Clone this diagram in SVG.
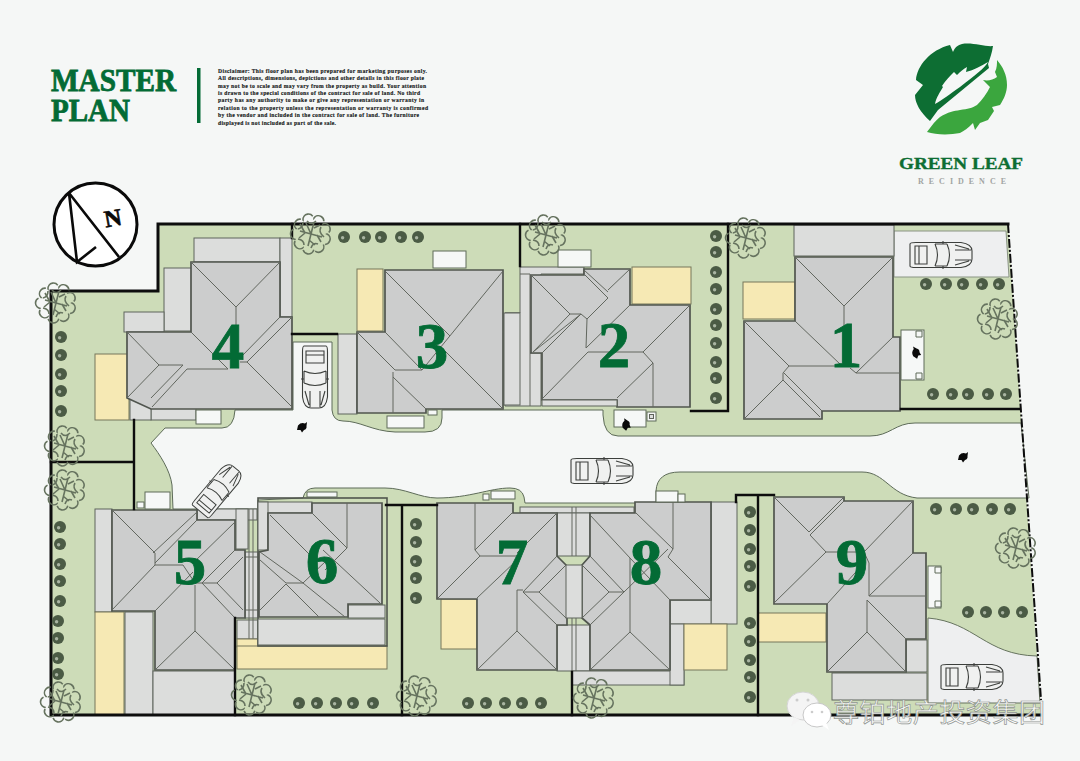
<svg xmlns="http://www.w3.org/2000/svg" width="1080" height="761" viewBox="0 0 1080 761">
<style>
.roof{fill:#cccdcd;stroke:#50554e;stroke-width:1.7;stroke-linejoin:miter}
.ridge{fill:none;stroke:#62675f;stroke-width:1}
.pave{fill:#dcdddc;stroke:#5f645c;stroke-width:1}
.yel{fill:#f6e9b4;stroke:#77775a;stroke-width:1}
.ent{fill:#f6f8f7;stroke:#5f6b58;stroke-width:1}
.wall{fill:none;stroke:#0d0d0d;stroke-width:2.4;stroke-linecap:square}
.num{font-family:"Liberation Serif",serif;font-weight:700;font-size:65px;fill:#036b35;stroke:#036b35;stroke-width:.8;text-anchor:middle}
.title{font-family:"Liberation Serif",serif;font-weight:700;font-size:31px;fill:#036b35;stroke:#036b35;stroke-width:.8}
.disc{font-family:"Liberation Serif",serif;font-weight:700;font-size:5.6px;fill:#17201a;stroke:#17201a;stroke-width:.15}
</style>
<defs>
<g id="tree" fill="none" stroke="#66735f" stroke-width="1.6">
<path d="M16,0A5.5,5.5 0 0 1 12.3,10.3A5.5,5.5 0 0 1 2.8,15.8A5.5,5.5 0 0 1 -8,13.9A5.5,5.5 0 0 1 -15,5.5A5.5,5.5 0 0 1 -15,-5.5A5.5,5.5 0 0 1 -8,-13.9A5.5,5.5 0 0 1 2.8,-15.8A5.5,5.5 0 0 1 12.3,-10.3A5.5,5.5 0 0 1 16,0Z" stroke-dasharray="14 2"/>
<path d="M0,0L3,-12M3,-6L9,-9M0,0L11,3M6,1L10,8M0,0L-3,12M-2,6L4,11M0,0L-11,-3M-6,-1L-11,-10M-6,-1L-12,4M0,0L-5,-11"/>
<path d="M-4,-13Q0,-8 5,-13M10,-7Q7,-2 13,3M7,10Q2,8 0,14M-7,11Q-7,6 -13,5M-13,-5Q-8,-6 -8,-12"/>
</g>
<g id="bush"><circle r="6" fill="#4b5b45"/><circle cx="-1.400" cy=".8" r="1.700" fill="#a9b4a2"/></g>
<g id="car" fill="none" stroke="#3c3f3c" stroke-width="1.1">
<path d="M-31,-11Q-31,-12.500 -25,-12.500L20,-12.500Q31,-11 31,-4L31,4Q31,11 20,12.500L-25,12.500Q-31,12.500 -31,11Z" fill="#f0f1f0"/>
<path d="M-26,-9L-14,-9L-14,9L-26,9ZM-22,-9V9"/>
<path d="M-6,-11Q-1,0 -6,11M6,-11Q11,0 6,11M-6,-11H6M-6,11H6"/>
<path d="M14,-10L28,-6M14,10L28,6M14,-5H30M14,5H30M2,-14V-11M2,14V11"/>
</g>
<path id="person" d="M-4,-1.500Q-1,-5 3,-3.500L5,-5L4.500,-1Q5,2 2,3L0,5.500L-1.500,3L-5,3Z" fill="#0a0a0a"/>
</defs>
<rect width="1080" height="761" fill="#f5f7f6"/>
<g id="site">
<path d="M51,291H158V224H1008L1041,715H51Z" fill="#cddcb8"/>
<path id="road" d="M151,443L165,428H222Q234,428 235,410H293V342H332V410Q333,421 343,421C360,421 372,431 395,432H425Q442,432 442,418V410H603V415Q604,436 618,436H870C890,436 895,423 915,423H1021L1029,498H917C890,495 885,472 862,472H680Q657,472 656,491V503H525L524,497Q522,488 510,488C490,488 470,498 437,498C420,498 405,488 385,488H315Q305,488 303,498L258,500V509H173L172,485C170,470 160,455 151,443Z" fill="#f5f7f6" stroke="#5d6b58" stroke-width="1"/>
<path d="M894,231H1006L1009,277H894Z" fill="#eeeff0" stroke="#8a9484" stroke-width="1"/>
<path d="M928,618C975,622 985,655 1037,656L1040,703H928Z" fill="#eeeff0" stroke="#66735f" stroke-width="1"/>
</g>
<g id="house-1">
<rect class="pave" x="794" y="225" width="100" height="31"/>
<rect class="yel" x="743" y="282" width="52" height="37"/>
<path class="roof" d="M795,257H893V337H900V411H822V419H744V321H795Z"/>
<path class="ridge" d="M795,257L844,306L893,257M844,306V350M893,337L856,373H900M795,321L841,365M744,321L789,366H844M789,366L783,373V380M784,373L822,411M783,380L744,419M783,380L820,417M856,373L850,368"/>
<rect class="ent" x="901" y="330" width="23" height="50"/>
<path class="ent" d="M916,331h6v6h-6zM916,373h6v6h-6z"/>
<use href="#person" x="916" y="353" transform="rotate(-70 916 353)"/>
<text class="num" x="846" y="367">1</text>
</g>
<g id="house-2">
<path class="pave" d="M520,267H584V274H541V406H505V313H520Z"/>
<path class="ridge" d="M520,274H530V406M530,353H541M505,313H520"/>
<rect class="yel" x="632" y="267" width="59" height="37"/>
<path class="roof" d="M584,269H630V305H690V407H617V400H542V353H531V275H584Z"/>
<path class="ridge" d="M531,275L570,314H581L533,352M570,314L533,352M581,314L542,353M581,314L587,319L608,298M584,270L608,292M585,275L608,298M630,269L608,290M587,319L586,348L630,305M588,352H643L690,305M643,352L653,363V407M653,363L617,398M588,352L543,398"/>
<rect class="pave" x="542" y="400" width="75" height="6"/>
<rect class="ent" x="558" y="250" width="33" height="17"/>
<rect class="ent" x="614" y="410" width="32" height="17"/>
<rect class="ent" x="647" y="412" width="9" height="9"/>
<rect class="pave" x="649.500" y="414.500" width="4" height="4"/>
<use href="#person" x="626" y="425" transform="rotate(-60 626 425)"/>
<text class="num" x="614" y="367">2</text>
</g>
<g id="house-3">
<rect class="pave" x="338" y="334" width="19" height="80"/>
<rect class="pave" x="504" y="313" width="16" height="92"/>
<rect class="yel" x="357" y="269" width="26" height="62"/>
<path class="roof" d="M385,270H503V409H426V413H357V332H385Z"/>
<path class="ridge" d="M385,271L450,336M503,271L422,370M503,409L440,346M357,332L395,370L422,370L385,332M393,372V413M393,377L426,409"/>
<rect class="ent" x="433" y="251" width="33" height="17"/>
<rect class="ent" x="387" y="416" width="37" height="12"/>
<rect class="ent" x="428" y="410" width="9" height="5"/>
<text class="num" x="432" y="368">3</text>
</g>
<g id="house-4">
<rect class="pave" x="194" y="238" width="86" height="24"/>
<rect class="pave" x="280" y="238" width="12" height="79"/>
<rect class="pave" x="164" y="268" width="28" height="63"/>
<rect class="pave" x="124" y="312" width="40" height="20"/>
<rect class="yel" x="95" y="354" width="34" height="66"/>
<rect class="pave" x="151" y="408" width="45" height="12"/>
<rect class="pave" x="130" y="398" width="21" height="22"/>
<path class="roof" d="M191,262H280V317H292V409H151L127,398V332H191Z"/>
<path class="ridge" d="M191,262L236,307L280,262M236,307V352M191,332L228,369H187M127,332L159,365H183M159,365L127,398M183,365L151,398M187,369L152,407M280,317L242,356M292,317L247,362L292,407M240,362H247"/>
<rect class="ent" x="196" y="410" width="25" height="14"/>
<text class="num" x="228" y="368">4</text>
</g>
<g id="house-5">
<rect class="pave" x="95" y="509" width="17" height="103"/>
<rect class="yel" x="95" y="612" width="29" height="103"/>
<rect class="pave" x="125" y="612" width="28" height="103"/>
<rect class="pave" x="153" y="671" width="82" height="44"/>
<rect class="pave" x="197" y="509" width="60" height="11"/>
<rect class="pave" x="236" y="509" width="12" height="40"/>
<rect class="pave" x="245" y="552" width="13" height="66"/>
<rect class="pave" x="237" y="620" width="21" height="19"/>
<path class="ridge" d="M249,509V640M253,509V640M245,557H258M245,610H258"/>
<path class="roof" d="M112,510H197V520H235V550H245V618H235V670H155V611H112Z"/>
<path class="ridge" d="M112,510L155,553V565H183L195,583M155,565L112,610M197,512L153,553M197,520L155,563M235,522L193,563M155,611L193,572M195,585V631L155,670M195,631L235,670M202,583L235,550M202,583H217L243,557M217,583L243,610M202,583L235,618M195,583H202"/>
<rect class="ent" x="145" y="492" width="25" height="17"/>
<rect class="ent" x="137" y="502" width="7" height="6"/>
<text class="num" x="190" y="584">5</text>
</g>
<g id="house-6">
<rect class="yel" x="237" y="639" width="21" height="8"/>
<rect class="yel" x="237" y="646" width="150" height="23"/>
<rect x="258" y="498" width="129" height="148" fill="none" stroke="#50554e" stroke-width="1.600"/>
<rect class="pave" x="258" y="502" width="54" height="11"/>
<rect class="pave" x="258" y="502" width="10" height="48"/>
<rect class="pave" x="258" y="619" width="127" height="26"/>
<rect class="pave" x="348" y="605" width="37" height="13"/>
<path class="roof" d="M312,503H382V604H348V617H259V552L268,550V513H312Z"/>
<path class="ridge" d="M312,513L347,548M347,503V548L325,570M323,550L380,603M270,515L315,560M260,552L303,583H286L260,560M286,584L260,610M303,583L327,560M286,584L319,617M303,583L345,617"/>
<rect class="ent" x="307" y="492" width="30" height="5"/>
<text class="num" x="322" y="583">6</text>
</g>
<g id="house-7">
<rect class="pave" x="520" y="507" width="114" height="6"/>
<rect class="pave" x="557" y="513" width="33" height="43"/>
<rect class="pave" x="557" y="625" width="33" height="46"/>
<rect class="pave" x="572" y="671" width="112" height="14"/>
<rect class="yel" x="441" y="599" width="36" height="50"/>
<path class="roof" d="M437,503H513V513H557V556L567,566V625H557V670H477V599H437Z"/>
<path class="ridge" d="M475,503V550L480,556L438,598M513,512L475,550M480,556H520M477,598L517,560M517,590V631L477,670M517,631L557,670M557,513L517,553M523,592H539M523,592L557,556M539,592L566,565M523,592L557,625M539,592L566,618M517,590H523"/>
<rect class="ent" x="491" y="491" width="24" height="8"/>
<rect class="ent" x="483" y="494" width="6" height="6"/>
<text class="num" x="512" y="584">7</text>
</g>
<g id="house-8">
<rect class="pave" x="711" y="502" width="26" height="122"/>
<rect class="pave" x="670" y="600" width="41" height="24"/>
<rect class="pave" x="670" y="624" width="14" height="61"/>
<rect class="yel" x="684" y="624" width="43" height="46"/>
<path class="roof" d="M635,502H711V600H670V670H590V625L582,618V565L590,556V513H635Z"/>
<path class="ridge" d="M673,502V549L668,557L711,600M635,512L673,549M590,515L630,558V632L590,670M630,632L670,670M590,556L624,592L590,625M609,592L582,565M609,592L582,618M609,592H624M630,558L670,600M624,592L668,549"/>
<rect class="pave" x="566" y="565" width="16" height="53"/>
<path class="ridge" d="M572,507V556M576,507V556M572,618V671M576,618V671"/>
<rect class="ent" x="656" y="491" width="22" height="11"/>
<rect class="ent" x="678" y="494" width="7" height="8"/>
<text class="num" x="646" y="584">8</text>
</g>
<g id="house-9">
<rect class="yel" x="758" y="613" width="68" height="29"/>
<rect class="pave" x="906" y="640" width="21" height="32"/>
<rect class="pave" x="832" y="673" width="95" height="27"/>
<path class="roof" d="M774,497H844V501H913V553H926V639H906V672H827V604H774Z"/>
<path class="ridge" d="M774,497L809,532L844,497M844,501L810,535L826,552L774,603M826,552H864L913,501M864,552L869,563V596L913,553M869,596H926M864,563L827,604M867,600V632L827,672M867,632L906,672M867,600L906,639"/>
<rect class="ent" x="928" y="566" width="13" height="42"/>
<path class="ent" d="M935,567h6v6h-6zM935,601h6v6h-6z"/>
<text class="num" x="852" y="584">9</text>
</g>
<g id="walls">
<path class="wall" style="stroke-width:3" d="M158,224H1008M158,224V291H51V715H1040"/>
<path class="wall" d="M292,224V238M520,224V266M728,224V411H691M901,409H1019M134,420V509M51,462H134M292,334H337M235,618V715M402,715V505H437M386,505H402M572,672V715M758,715V495M736,502V495H774"/>
<path d="M1008,224L1041,700" fill="none" stroke="#0d0d0d" stroke-width="2" stroke-dasharray="9 2 2 2"/>
</g>
<g id="planting">
<use href="#tree" x="311" y="234"/><use href="#tree" x="546" y="235"/><use href="#tree" x="746" y="238"/>
<use href="#tree" x="998" y="319"/><use href="#tree" x="56" y="303"/><use href="#tree" x="65" y="446"/>
<use href="#tree" x="65" y="490"/><use href="#tree" x="61" y="702"/><use href="#tree" x="252" y="695"/>
<use href="#tree" x="417" y="696"/><use href="#tree" x="594" y="698"/><use href="#tree" x="1016" y="548"/>
<use href="#bush" x="344" y="237"/><use href="#bush" x="365" y="237"/><use href="#bush" x="381" y="237"/><use href="#bush" x="401" y="237"/><use href="#bush" x="418" y="237"/>
<use href="#bush" x="716" y="236"/><use href="#bush" x="716" y="252"/><use href="#bush" x="716" y="272"/><use href="#bush" x="716" y="289"/><use href="#bush" x="716" y="309"/><use href="#bush" x="716" y="325"/><use href="#bush" x="716" y="343"/><use href="#bush" x="716" y="362"/><use href="#bush" x="716" y="378"/><use href="#bush" x="716" y="398"/>
<use href="#bush" x="926" y="284"/><use href="#bush" x="946" y="284"/><use href="#bush" x="963" y="284"/><use href="#bush" x="982" y="284"/><use href="#bush" x="999" y="284"/>
<use href="#bush" x="933" y="394"/><use href="#bush" x="952" y="394"/><use href="#bush" x="968" y="394"/><use href="#bush" x="988" y="394"/><use href="#bush" x="1006" y="394"/>
<use href="#bush" x="61" y="337"/><use href="#bush" x="61" y="355"/><use href="#bush" x="61" y="374"/><use href="#bush" x="61" y="391"/><use href="#bush" x="61" y="411"/>
<use href="#bush" x="60" y="527"/><use href="#bush" x="60" y="544"/><use href="#bush" x="60" y="564"/><use href="#bush" x="60" y="581"/><use href="#bush" x="60" y="601"/><use href="#bush" x="58" y="621"/><use href="#bush" x="58" y="638"/><use href="#bush" x="58" y="658"/><use href="#bush" x="58" y="674"/>
<use href="#bush" x="299" y="703"/><use href="#bush" x="317" y="703"/><use href="#bush" x="336" y="703"/><use href="#bush" x="353" y="703"/><use href="#bush" x="373" y="703"/>
<use href="#bush" x="468" y="703"/><use href="#bush" x="486" y="703"/><use href="#bush" x="505" y="703"/><use href="#bush" x="522" y="703"/><use href="#bush" x="541" y="703"/>
<use href="#bush" x="416" y="524"/><use href="#bush" x="416" y="542"/><use href="#bush" x="416" y="561"/><use href="#bush" x="416" y="578"/><use href="#bush" x="416" y="598"/>
<use href="#bush" x="750" y="512"/><use href="#bush" x="750" y="530"/><use href="#bush" x="750" y="549"/><use href="#bush" x="750" y="566"/><use href="#bush" x="750" y="586"/><use href="#bush" x="750" y="623"/><use href="#bush" x="750" y="641"/><use href="#bush" x="750" y="660"/><use href="#bush" x="750" y="677"/><use href="#bush" x="750" y="697"/>
<use href="#bush" x="936" y="509"/><use href="#bush" x="956" y="509"/><use href="#bush" x="973" y="509"/><use href="#bush" x="992" y="509"/><use href="#bush" x="1010" y="509"/>
<use href="#bush" x="968" y="612"/><use href="#bush" x="986" y="612"/><use href="#bush" x="1004" y="612"/><use href="#bush" x="1022" y="612"/>
</g>
<g id="cars">
<use href="#car" transform="translate(941,255)"/>
<use href="#car" transform="translate(972,677)"/>
<use href="#car" transform="translate(602,471)"/>
<use href="#car" transform="translate(315,377) rotate(90)"/>
<use href="#car" transform="translate(218,490) rotate(-50) scale(.9)"/>
<use href="#person" x="302" y="427"/>
<use href="#person" x="963" y="457"/>
</g>
<g id="title">
<text class="title" x="51" y="91" textLength="125" lengthAdjust="spacingAndGlyphs">MASTER</text>
<text class="title" x="51" y="121" textLength="79" lengthAdjust="spacingAndGlyphs">PLAN</text>
<rect x="197" y="68" width="3.500" height="55" fill="#036b35"/>
</g>
<g id="disclaimer" class="disc">
<text x="218" y="73" textLength="209">Disclaimer: This floor plan has been prepared for marketing purposes only.</text>
<text x="218" y="80" textLength="206">All descriptions, dimensions, depictions and other details in this floor plate</text>
<text x="218" y="87.500" textLength="208">may not be to scale and may vary from the property as build. Your attention</text>
<text x="218" y="94.500" textLength="202">is drawn to the special conditions of the contract for sale of land. No third</text>
<text x="218" y="102" textLength="206">party has any authority to make or give any representation or warranty in</text>
<text x="218" y="109.500" textLength="210">relation to the property unless the representation or warranty is confirmed</text>
<text x="218" y="117" textLength="201">by the vendor and included in the contract for sale of land. The furniture</text>
<text x="218" y="124.500" textLength="118">displayed is not included as part of the sale.</text>
</g>
<g id="compass">
<circle cx="95.500" cy="224.500" r="41.500" fill="#fff" stroke="#0a0a0a" stroke-width="3"/>
<path d="M69,193L119,257M69,193L77,262L96,247" fill="none" stroke="#0a0a0a" stroke-width="2.600"/>
<text x="113" y="226" transform="rotate(-10 113 218)" font-family="Liberation Serif,serif" font-weight="700" font-size="24" text-anchor="middle" fill="#0a0a0a" stroke="#0a0a0a" stroke-width=".6">N</text>
</g>
<g id="logo">
<path d="M930,121C920,112 915,103 915,95L923,85L916,80C917,66 930,50 950,45L953,52C955,47 958,45 962,44C972,42 985,47 993,46C992,53 990,58 988,64L989,68L938,110Z" fill="#0d6e33"/>
<path d="M935,104C936,98 940,92 943,87L942,86C946,80 950,76 954,72L957,75C960,72 963,69 967,67L966,72C974,70 981,66 988,62C985,68 975,75 960,87C950,94 942,100 935,104Z" fill="#f5f7f6"/>
<path d="M927,132C932,125 936,120 940,117C948,112 954,111 960,110C968,109 972,108 977,105C982,100 987,93 990,87L983,80C988,81 993,80 997,77L995,72C997,68 997,64 997,60C1003,67 1007,75 1007,85C1007,92 1004,99 1000,105L992,107L994,111L988,120L980,123L975,130L973,123C968,128 964,131 960,133C950,135 936,135 927,132Z" fill="#3ba63e"/>
<text x="961" y="169" text-anchor="middle" textLength="124" lengthAdjust="spacingAndGlyphs" font-family="Liberation Serif,serif" font-weight="700" font-size="17.500" fill="#0d6e33" stroke="#0d6e33" stroke-width=".4">GREEN LEAF</text>
<text x="962" y="184" text-anchor="middle" textLength="88" font-family="Liberation Serif,serif" font-weight="700" font-size="8" fill="#a2a5a3">RECIDENCE</text>
</g>
<g id="watermark">
<ellipse cx="803" cy="706" rx="16" ry="14" fill="#f4f4f4" stroke="#d5d5d5"/>
<path d="M794,717L791,726L800,720Z" fill="#f4f4f4"/>
<ellipse cx="817" cy="715" rx="14" ry="12" fill="#fff" stroke="#c8c8c8"/>
<path d="M822,725L829,730L826,722Z" fill="#fff"/>
<circle cx="797" cy="700" r="1.500" fill="#ccc"/><circle cx="808" cy="700" r="1.500" fill="#ccc"/><circle cx="812" cy="712" r="1.300" fill="#ccc"/><circle cx="822" cy="712" r="1.300" fill="#ccc"/>
<text x="833" y="722" textLength="212" font-family="Noto Sans CJK SC,sans-serif" font-size="26" fill="#ffffff" fill-opacity=".85" stroke="#8f9490" stroke-width=".7">尊铂地产投资集团</text>
</g>
</svg>
